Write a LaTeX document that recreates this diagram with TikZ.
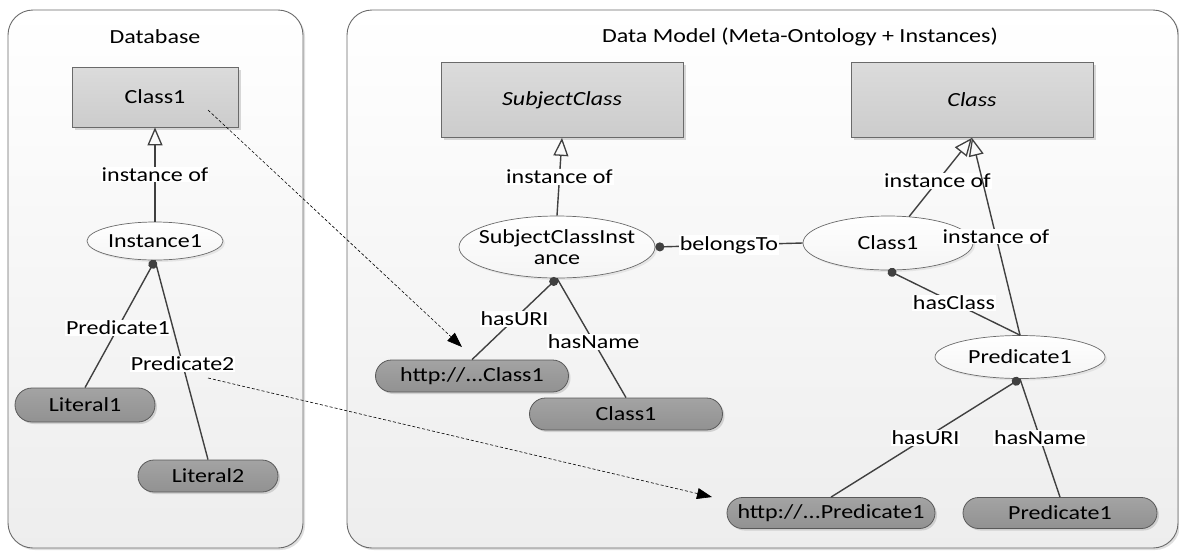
\documentclass[tikz,border=0pt]{standalone}
\usepackage{fontspec}
\setmainfont{Carlito}[FakeStretch=1.2]
\usetikzlibrary{arrows.meta,shapes.geometric,shadows}
\definecolor{edgegray}{HTML}{404040}
\definecolor{rimgray}{HTML}{6A6A6A}
\begin{document}
\begin{tikzpicture}[x=1pt,y=-1pt,
  every node/.style={font=\fontsize{20}{23}\selectfont, text=black},
  panel/.style={draw=rimgray, line width=0.9pt, rounded corners=25pt,
    top color=white, bottom color=black!7,
    drop shadow={shadow xshift=2pt, shadow yshift=-2pt, fill=black!25, opacity=0.5}},
  title/.style={},
  classbox/.style={draw=rimgray, line width=0.8pt, minimum width=#1, minimum height=75pt,
    inner sep=0pt, top color=black!14, bottom color=black!20,
    drop shadow={shadow xshift=2.5pt, shadow yshift=-2.5pt, fill=black!30, opacity=0.5}},
  instnode/.style={ellipse, draw=rimgray, line width=0.7pt, inner sep=0pt,
    top color=white, bottom color=black!4,
    drop shadow={shadow xshift=2pt, shadow yshift=-2pt, fill=black!20, opacity=0.4}},
  literal/.style={draw=black!65, line width=0.8pt, rounded corners=16pt,
    minimum height=32pt, minimum width=#1, inner sep=0pt,
    top color=black!36, bottom color=black!43,
    drop shadow={shadow xshift=2pt, shadow yshift=-2pt, fill=black!30, opacity=0.5}},
  link/.style={draw=edgegray, line width=1.4pt},
  instof/.style={link, -{Triangle[open, length=18pt, width=15pt, line width=1.3pt]}},
  dotlink/.style={link, {Circle[length=9pt]}-},
  tag/.style={fill=white, inner sep=1pt},
  mapping/.style={draw=black, line width=0.6pt, dash pattern=on 3pt off 2pt,
    -{Triangle[length=15pt, width=11pt]}}
]
\useasboundingbox (0,0) rectangle (1179,550);

% containers
\path[panel] (8,10) rectangle (303,548);
\path[panel] (347,10) rectangle (1178,548);
\node[title] (dbtitle) at (155,37) {Database};
\node[title] (dmtitle) at (800,37) {Data Model (Meta-Ontology + Instances)};

% database side
\node[classbox=166pt, minimum height=60pt] (dbc1) at (155,97) {Class1};
\node[instnode, minimum width=136pt, minimum height=38pt] (inst1) at (155,241) {Instance1};
\node[literal=140pt, minimum height=34pt, rounded corners=17pt] (lit1) at (85,405) {Literal1};
\node[literal=140pt] (lit2) at (208,476) {Literal2};

\draw[instof] (inst1.north) -- node[tag, pos=0.5] {instance of} (dbc1.south);
\draw[dotlink] (inst1.south) -- node[tag, pos=0.53] {Predicate1} (lit1.north);
\draw[link] (inst1.south) -- node[tag, pos=0.52] {Predicate2} (lit2.north);

% data model side
\node[classbox=242pt] (sc) at (562,100) {\itshape SubjectClass};
\node[classbox=242pt] (cls) at (972,100) {\itshape Class};
\node[instnode, minimum width=196pt, minimum height=62pt] (sci) at (557,247) {};
\node[align=center, inner sep=0pt] (scitext) at (sci.center) {SubjectClassInst\\[-2pt]ance};
\node[instnode, minimum width=170pt, minimum height=54pt] (c1) at (888,243) {Class1};
\node[instnode, minimum width=170pt, minimum height=43pt] (p1) at (1020,357) {Predicate1};
\node[literal=193pt] (lc1u) at (472,376) {http://...Class1};
\node[literal=193pt] (lc1n) at (626,414) {Class1};
\node[literal=208pt, minimum height=31pt, rounded corners=15.5pt] (lp1u) at (831,513) {http://...Predicate1};
\node[literal=194pt, minimum height=31pt, rounded corners=15.5pt] (lp1n) at (1060,513) {Predicate1};

\draw[instof] (sci.north) -- node[tag, pos=0.5] {instance of} (sc.south);
\draw[dotlink] (sci.east) -- node[tag, pos=0.5] {belongsTo} (c1.west);
\draw[instof] (c1) -- node[tag, pos=0.45] {instance of} (cls.south);
\draw[instof] (p1.north) -- node[tag, pos=0.5] {instance of} (cls.south);
\draw[dotlink] (c1.south) -- node[tag, pos=0.5] {hasClass} (p1.north);
\draw[dotlink] (sci.south) -- node[tag, pos=0.5] {hasURI} (lc1u.north);
\draw[link] (sci.south) -- node[tag, pos=0.53] {hasName} (lc1n.north);
\draw[dotlink] (p1.south) -- node[tag, pos=0.5] {hasURI} (lp1u.north);
\draw[link] (p1.south) -- node[tag, pos=0.5] {hasName} (lp1n.north);

% mappings from the database into the data model
\coordinate (mapAfrom) at (208,110);
\coordinate (mapAto) at (462,347);
\coordinate (mapBfrom) at (208,378);
\coordinate (mapBto) at (712,497);
\draw[mapping] (mapAfrom) -- (mapAto);
\draw[mapping] (mapBfrom) -- (mapBto);
\end{tikzpicture}
\end{document}
